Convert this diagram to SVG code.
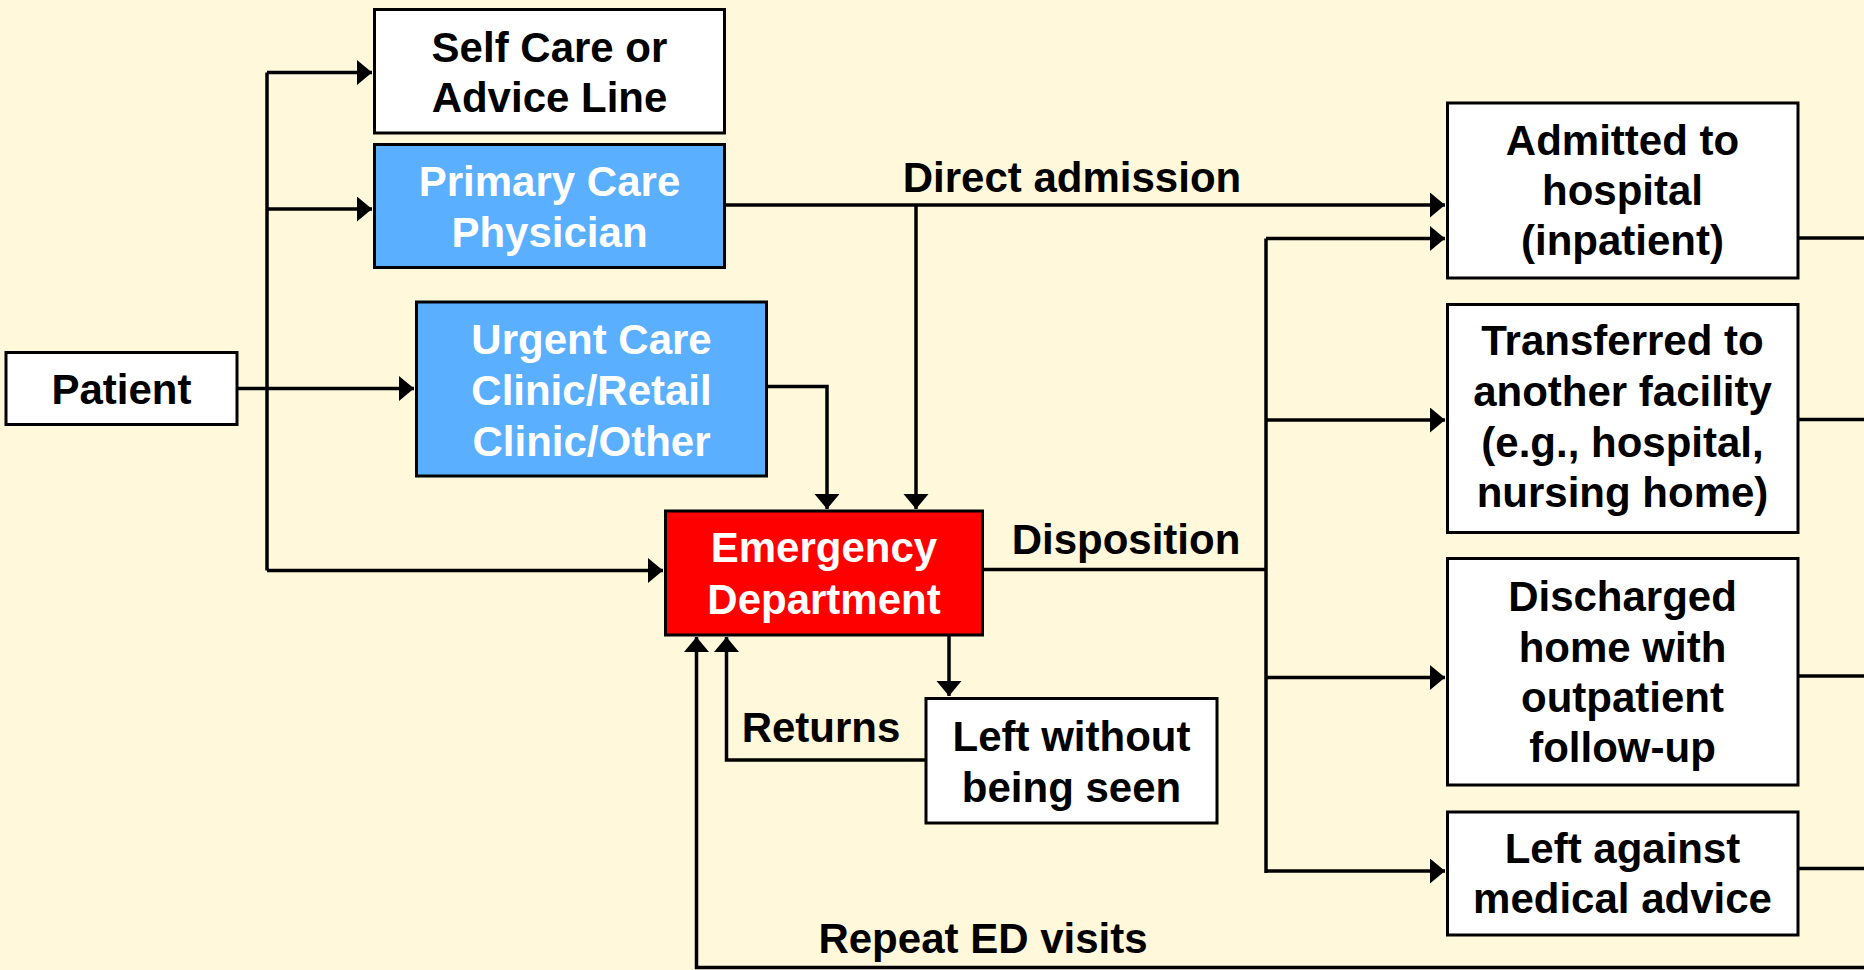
<svg xmlns="http://www.w3.org/2000/svg" width="1864" height="970" viewBox="0 0 1864 970">
  <style>
    .box { stroke: #000; stroke-width: 3; }
    .plain { fill: #FFFFFF; }
    .blue { fill: #5BAFFF; }
    .red { fill: #FF0000; }
    text { font-family: "Liberation Sans", Arial, sans-serif; font-weight: bold; font-size: 42px; text-anchor: middle; }
    .dark { fill: #000; }
    .light { fill: #FFF; }
    .wire { fill: none; stroke: #000; stroke-width: 3.5; }
  </style>
  <defs>
    <marker id="arrow" markerUnits="userSpaceOnUse" markerWidth="16" markerHeight="26" refX="15" refY="12.5" orient="auto">
      <path d="M0,0 L15,12.5 L0,25 Z" fill="#000"/>
    </marker>
  </defs>

  <rect width="1864" height="970" fill="#FFF8DA"/>

  <!-- connectors -->
  <g id="connectors">
    <path class="wire" d="M237,388.5 H414" marker-end="url(#arrow)"/>
    <path class="wire" d="M267,72.5 V570.5"/>
    <path class="wire" d="M267,72.5 H372" marker-end="url(#arrow)"/>
    <path class="wire" d="M267,209 H372" marker-end="url(#arrow)"/>
    <path class="wire" d="M267,570.5 H663" marker-end="url(#arrow)"/>
    <path class="wire" d="M725,205 H1445" marker-end="url(#arrow)"/>
    <path class="wire" d="M916,205 V509" marker-end="url(#arrow)"/>
    <path class="wire" d="M767,386.5 H827 V509" marker-end="url(#arrow)"/>
    <path class="wire" d="M983,569.5 H1266"/>
    <path class="wire" d="M1266,238.5 V873"/>
    <path class="wire" d="M1266,238.5 H1445" marker-end="url(#arrow)"/>
    <path class="wire" d="M1266,420 H1445" marker-end="url(#arrow)"/>
    <path class="wire" d="M1266,677.5 H1445" marker-end="url(#arrow)"/>
    <path class="wire" d="M1266,871 H1445" marker-end="url(#arrow)"/>
    <path class="wire" d="M949,635 V696" marker-end="url(#arrow)"/>
    <path class="wire" d="M926,760 H726.5 V637" marker-end="url(#arrow)"/>
    <path class="wire" d="M1798,238 H1864"/>
    <path class="wire" d="M1798,419.5 H1864"/>
    <path class="wire" d="M1798,676 H1864"/>
    <path class="wire" d="M1798,868.5 H1864"/>
    <path class="wire" d="M1864,967.5 H696.5 V637" marker-end="url(#arrow)"/>
    <text class="dark" x="1072" y="192">Direct admission</text>
    <text class="dark" x="1126" y="554">Disposition</text>
    <text class="dark" x="821" y="742">Returns</text>
    <text class="dark" x="983" y="953">Repeat ED visits</text>
  </g>

  <g id="patient">
    <rect class="box plain" x="6" y="352.5" width="231" height="72"/>
    <text class="dark" x="121.5" y="404">Patient</text>
  </g>

  <g id="self-care">
    <rect class="box plain" x="374.5" y="9.5" width="350" height="123.5"/>
    <text class="dark" x="549.5" y="62">Self Care or</text>
    <text class="dark" x="549.5" y="112">Advice Line</text>
  </g>

  <g id="primary-care">
    <rect class="box blue" x="374.5" y="144.5" width="350" height="123"/>
    <text class="light" x="549.5" y="196">Primary Care</text>
    <text class="light" x="549.5" y="247">Physician</text>
  </g>

  <g id="urgent-care">
    <rect class="box blue" x="416.5" y="302" width="350" height="174"/>
    <text class="light" x="591.5" y="354">Urgent Care</text>
    <text class="light" x="591.5" y="405">Clinic/Retail</text>
    <text class="light" x="591.5" y="456">Clinic/Other</text>
  </g>

  <g id="emergency-department">
    <rect class="box red" x="665.5" y="511" width="317" height="124"/>
    <text class="light" x="824" y="562">Emergency</text>
    <text class="light" x="824" y="614">Department</text>
  </g>

  <g id="left-without-being-seen">
    <rect class="box plain" x="926" y="698.5" width="291" height="124.5"/>
    <text class="dark" x="1071.5" y="751">Left without</text>
    <text class="dark" x="1071.5" y="802">being seen</text>
  </g>

  <g id="admitted">
    <rect class="box plain" x="1447.5" y="103" width="350.5" height="175"/>
    <text class="dark" x="1622.5" y="155">Admitted to</text>
    <text class="dark" x="1622.5" y="205">hospital</text>
    <text class="dark" x="1622.5" y="255">(inpatient)</text>
  </g>

  <g id="transferred">
    <rect class="box plain" x="1447.5" y="304.5" width="350.5" height="228"/>
    <text class="dark" x="1622.5" y="355">Transferred to</text>
    <text class="dark" x="1622.5" y="406">another facility</text>
    <text class="dark" x="1622.5" y="457">(e.g., hospital,</text>
    <text class="dark" x="1622.5" y="507">nursing home)</text>
  </g>

  <g id="discharged">
    <rect class="box plain" x="1447.5" y="558.5" width="350.5" height="226.5"/>
    <text class="dark" x="1622.5" y="611">Discharged</text>
    <text class="dark" x="1622.5" y="662">home with</text>
    <text class="dark" x="1622.5" y="712">outpatient</text>
    <text class="dark" x="1622.5" y="762">follow-up</text>
  </g>

  <g id="left-against-advice">
    <rect class="box plain" x="1447.5" y="812" width="350.5" height="123"/>
    <text class="dark" x="1622.5" y="863">Left against</text>
    <text class="dark" x="1622.5" y="913">medical advice</text>
  </g>
</svg>
